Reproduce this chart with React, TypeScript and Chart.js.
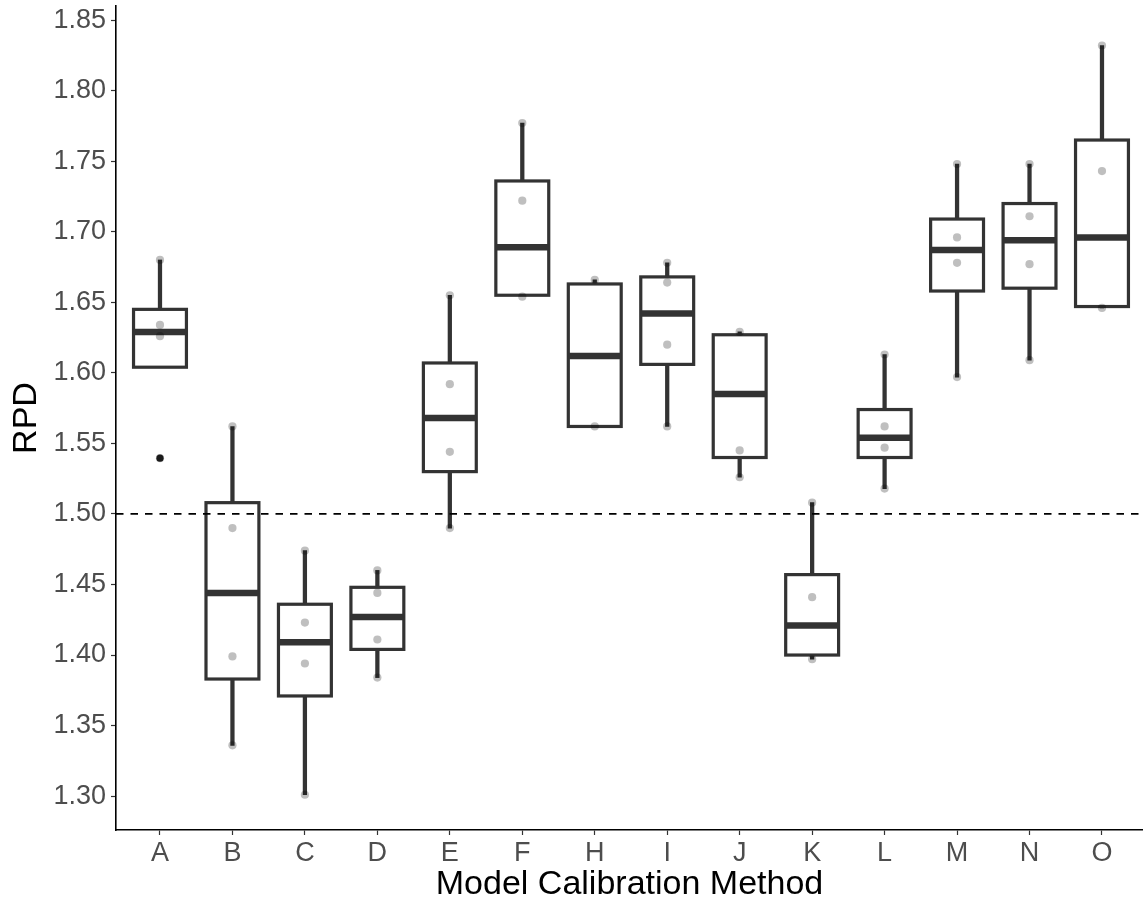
import React, { useEffect, useRef } from "react";
import { Chart, registerables } from "chart.js";

Chart.register(...registerables);

// ---------- data ----------
const categories = ["A", "B", "C", "D", "E", "F", "H", "I", "J", "K", "L", "M", "N", "O"];
const whiskerLow = [1.604, 1.336, 1.301, 1.384, 1.490, 1.655, 1.562, 1.562, 1.526, 1.397, 1.518, 1.597, 1.609, 1.646];
const q1 = [1.604, 1.383, 1.371, 1.404, 1.530, 1.655, 1.562, 1.606, 1.540, 1.400, 1.540, 1.658, 1.660, 1.647];
const medians = [1.629, 1.444, 1.409, 1.427, 1.568, 1.689, 1.612, 1.642, 1.585, 1.421, 1.554, 1.687, 1.694, 1.696];
const q3 = [1.645, 1.508, 1.436, 1.448, 1.607, 1.736, 1.663, 1.668, 1.627, 1.457, 1.574, 1.709, 1.720, 1.765];
const whiskerHigh = [1.680, 1.562, 1.474, 1.460, 1.655, 1.777, 1.666, 1.678, 1.629, 1.508, 1.613, 1.748, 1.748, 1.832];
const observations = [
  [1.680, 1.634, 1.626, 1.5395],
  [1.562, 1.490, 1.399, 1.336],
  [1.474, 1.423, 1.394, 1.301],
  [1.460, 1.444, 1.411, 1.384],
  [1.655, 1.592, 1.544, 1.490],
  [1.777, 1.722, 1.654],
  [1.666, 1.562],
  [1.678, 1.664, 1.620, 1.562],
  [1.629, 1.545, 1.526],
  [1.508, 1.441, 1.397],
  [1.613, 1.562, 1.547, 1.518],
  [1.748, 1.696, 1.678, 1.597],
  [1.748, 1.711, 1.677, 1.609],
  [1.832, 1.743, 1.646],
];
const outlierGroups = ["A"];
const outlierValues = [1.5395];
const yTicks = [1.3, 1.35, 1.4, 1.45, 1.5, 1.55, 1.6, 1.65, 1.7, 1.75, 1.8, 1.85];
const referenceLine = 1.5;

const FONT = "'Liberation Sans', Arial, Helvetica, sans-serif";

const boxDecor = {
  id: "boxDecor",
  afterDatasetDraw(chart: any, args: any) {
    if (args.meta.index !== 1) return;
    const ctx = chart.ctx;
    const y = chart.scales.y;
    ctx.save();
    ctx.strokeStyle = "#333333";
    args.meta.data.forEach((el: any, i: number) => {
      const { x, width } = el.getProps(["x", "width"], true);
      const top = y.getPixelForValue(q3[i]);
      const bot = y.getPixelForValue(q1[i]);
      ctx.lineWidth = 3.2;
      ctx.strokeRect(x - width / 2, top, width, bot - top);
      const m = y.getPixelForValue(medians[i]);
      ctx.lineWidth = 6.5;
      ctx.beginPath();
      ctx.moveTo(x - width / 2, m);
      ctx.lineTo(x + width / 2, m);
      ctx.stroke();
    });
    ctx.restore();
  },
  afterDatasetsDraw(chart: any) {
    const ctx = chart.ctx;
    const { left, right } = chart.chartArea;
    const py = chart.scales.y.getPixelForValue(referenceLine);
    ctx.save();
    ctx.strokeStyle = "#000000";
    ctx.lineWidth = 1.8;
    ctx.setLineDash([7.5, 7]);
    ctx.beginPath();
    ctx.moveTo(left, py);
    ctx.lineTo(right, py);
    ctx.stroke();
    ctx.restore();
  },
};

export default function App() {
  const ref = useRef<HTMLCanvasElement | null>(null);

  useEffect(() => {
    if (!ref.current) return;
    const pointData: { x: number; y: number }[] = [];
    observations.forEach((vals, i) => vals.forEach((v) => pointData.push({ x: i, y: v })));
    const outlierData = outlierValues.map((v, k) => ({ x: categories.indexOf(outlierGroups[k]), y: v }));

    const chart = new Chart(ref.current, {
      type: "bar",
      data: {
        datasets: [
          {
            type: "bar",
            label: "whiskers",
            data: categories.map((_, i) => ({ x: i, y: [whiskerLow[i], whiskerHigh[i]] })) as any,
            backgroundColor: "#333333",
            borderWidth: 0,
            barThickness: 3.6,
            grouped: false,
            order: 4,
          } as any,
          {
            type: "bar",
            label: "boxes",
            data: categories.map((_, i) => ({ x: i, y: [q1[i], q3[i]] })) as any,
            backgroundColor: "#ffffff",
            borderWidth: 0,
            barPercentage: 0.73,
            categoryPercentage: 1,
            grouped: false,
            order: 3,
          } as any,
          {
            type: "scatter",
            label: "observations",
            data: pointData,
            pointRadius: 4.1,
            pointBackgroundColor: "rgba(0,0,0,0.25)",
            pointBorderWidth: 0,
            clip: false,
            order: 2,
          } as any,
          {
            type: "scatter",
            label: "outliers",
            data: outlierData,
            pointRadius: 3.6,
            pointBackgroundColor: "#1a1a1a",
            pointBorderWidth: 0,
            order: 1,
          } as any,
        ],
      },
      options: {
        responsive: false,
        animation: false,
        events: [],
        layout: { autoPadding: false, padding: { top: 6, right: 0, bottom: 0, left: 0 } },
        plugins: { legend: { display: false }, tooltip: { enabled: false } },
        scales: {
          x: {
            type: "linear",
            min: -0.607,
            max: 13.566,
            offset: false,
            afterBuildTicks: (scale: any) => {
              scale.ticks = categories.map((_, i) => ({ value: i }));
            },
            afterFit: (scale: any) => {
              scale.height = 74;
              scale.paddingLeft = 0;
              scale.paddingRight = 0;
              scale.paddingTop = 0;
              scale.paddingBottom = 0;
            },
            ticks: {
              autoSkip: false,
              maxRotation: 0,
              padding: 2,
              color: "#4d4d4d",
              font: { size: 27, family: FONT },
              callback: (v: any) => categories[Math.round(Number(v))] ?? "",
            },
            grid: {
              display: true,
              offset: false,
              drawOnChartArea: false,
              drawTicks: true,
              tickLength: 5,
              tickColor: "#333333",
              tickWidth: 1.2,
            },
            border: { display: true, color: "#000000", width: 1.6 },
            title: {
              display: true,
              text: "Model Calibration Method",
              color: "#000000",
              font: { size: 34, family: FONT, lineHeight: 1 },
              padding: { top: 0, bottom: 2 },
            },
          },
          y: {
            type: "linear",
            min: 1.276,
            max: 1.86,
            afterBuildTicks: (scale: any) => {
              scale.ticks = yTicks.map((v) => ({ value: v }));
            },
            afterFit: (scale: any) => {
              scale.width = 116;
              scale.paddingTop = 0;
              scale.paddingBottom = 0;
              scale.paddingLeft = 0;
              scale.paddingRight = 0;
            },
            ticks: {
              padding: 5,
              color: "#4d4d4d",
              font: { size: 27, family: FONT },
              callback: (v: any) => Number(v).toFixed(2),
            },
            grid: {
              display: true,
              offset: false,
              drawOnChartArea: false,
              drawTicks: true,
              tickLength: 5,
              tickColor: "#333333",
              tickWidth: 1.2,
            },
            border: { display: true, color: "#000000", width: 1.6 },
            title: {
              display: true,
              text: "RPD",
              color: "#000000",
              font: { size: 34, family: FONT, lineHeight: 1.2 },
              padding: { top: 6, bottom: 0 },
            },
          },
        },
      } as any,
      plugins: [boxDecor],
    });
    return () => chart.destroy();
  }, []);

  return (
    <div style={{ position: "absolute", left: 0, top: 0, width: 1143, height: 904, background: "#ffffff" }}>
      <canvas ref={ref} width={1143} height={904} />
    </div>
  );
}
